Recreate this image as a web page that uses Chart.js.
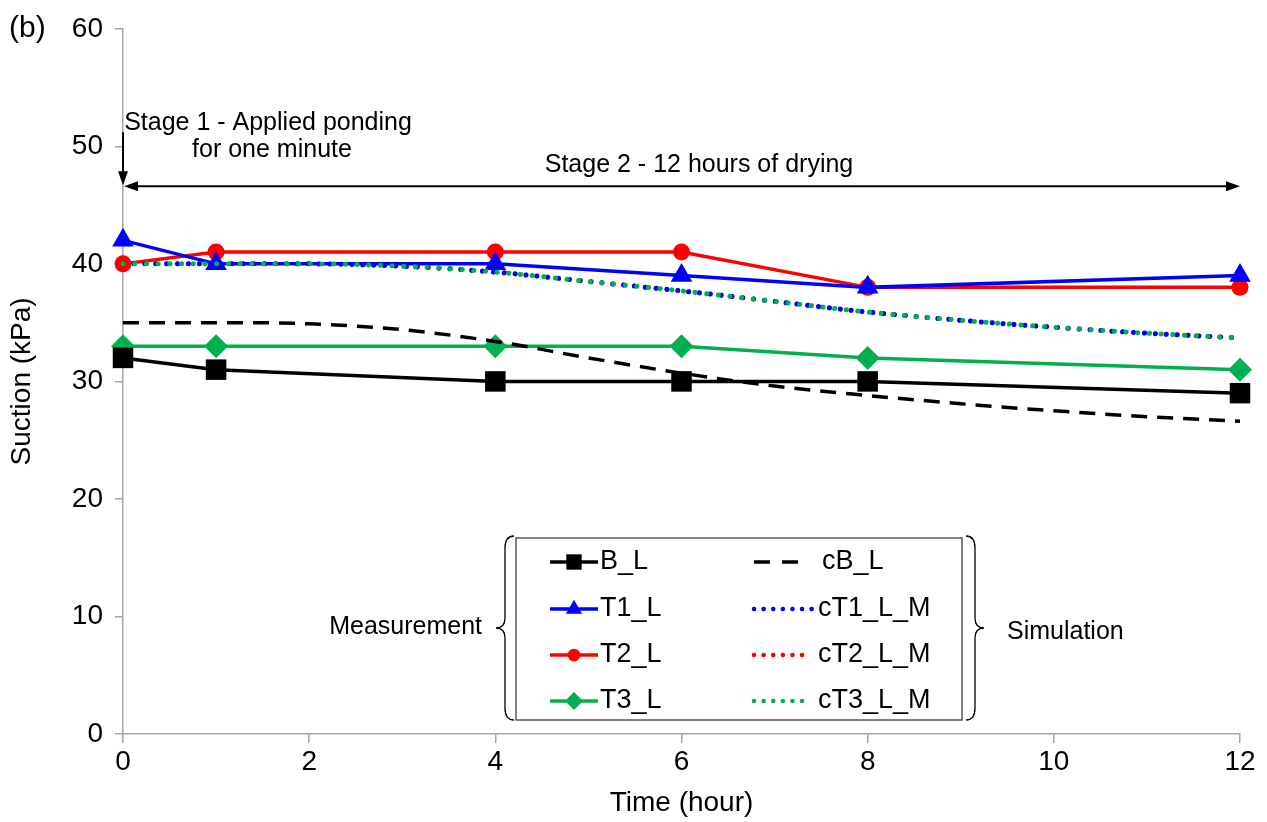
<!DOCTYPE html>
<html>
<head>
<meta charset="utf-8">
<script src="https://cdn.jsdelivr.net/npm/chart.js@4.4.0/dist/chart.umd.min.js"></script>
<style>
  html, body { margin: 0; padding: 0; background: #fff; }
  #wrap { width: 1267px; height: 822px; position: relative; }
</style>
</head>
<body>
<div id="wrap"><canvas id="chart" width="1267" height="822"></canvas></div>
<script>
// measured suction (kPa) vs time (hour)
var timeMeas = [0, 1, 4, 6, 8, 12];
var bL  = [32, 31, 30, 30, 30, 29];
var t1L = [42, 40, 40, 39, 38, 39];
var t2L = [40, 41, 41, 41, 38, 38];
var t3L = [33, 33, 33, 33, 32, 31];

// simulated curves
var timeSim = [0, 1, 2, 3, 4, 5, 6, 7, 8, 9, 10, 11, 12];
var cBL  = [35, 35, 34.9, 34.4, 33.4, 32.0, 30.7, 29.6, 28.8, 28.1, 27.5, 27.0, 26.6];
var cT1L = [40, 40, 40, 39.8, 39.3, 38.5, 37.7, 36.8, 35.9, 35.2, 34.6, 34.1, 33.7];
var cT2L = [40, 40, 40, 39.8, 39.3, 38.5, 37.7, 36.8, 35.9, 35.2, 34.6, 34.1, 33.7];
var cT3L = [40, 40, 40, 39.8, 39.3, 38.5, 37.7, 36.8, 35.9, 35.2, 34.6, 34.1, 33.7];

var FONT = '"Liberation Sans", Arial, sans-serif';
var AXIS = '#a6a6a6';

function pts(xs, ys) {
    return xs.map(function(x, i) { return { x: x, y: ys[i] }; });
}

function measSet(label, ys, color, style, r) {
    return {
        label: label, data: pts(timeMeas, ys),
        borderColor: color, backgroundColor: color, borderWidth: 3.5,
        pointStyle: style, pointRadius: r, pointHoverRadius: r,
        pointBorderWidth: 0, tension: 0, clip: false
    };
}

function simSet(label, ys, color, dash, width) {
    return {
        label: label, data: pts(timeSim, ys),
        borderColor: color, backgroundColor: color, borderWidth: width,
        borderDash: dash, borderCapStyle: dash[0] < 1 ? 'round' : 'butt',
        pointRadius: 0, cubicInterpolationMode: 'monotone', clip: false
    };
}

// first dataset is drawn on top in Chart.js
var simSets = [
    simSet('cB_L', cBL, '#000000', [16, 10], 3.5),
    simSet('cT3_L_M', cT3L, '#00b050', [0.1, 11.6], 5),
    simSet('cT1_L_M', cT1L, '#0000ff', [0.1, 10.8], 5),
    simSet('cT2_L_M', cT2L, '#ff0000', [0.1, 10.8], 4.5)
];
var measSets = [
    measSet('B_L', bL, '#000000', 'rect', 14.5),
    measSet('T1_L', t1L, '#0000ff', 'triangle', 12.5),
    measSet('T2_L', t2L, '#ff0000', 'circle', 8.5),
    measSet('T3_L', t3L, '#00b050', 'rectRot', 12)
];
var legendLeft = ['B_L', 'T1_L', 'T2_L', 'T3_L'];
var legendRight = ['cB_L', 'cT1_L_M', 'cT2_L_M', 'cT3_L_M'];

function arrowHead(ctx, x, y, dir) {
    ctx.beginPath();
    if (dir === 'down') {
        ctx.moveTo(x, y); ctx.lineTo(x - 5, y - 14); ctx.lineTo(x + 5, y - 14);
    } else if (dir === 'left') {
        ctx.moveTo(x, y); ctx.lineTo(x + 14, y - 5); ctx.lineTo(x + 14, y + 5);
    } else {
        ctx.moveTo(x, y); ctx.lineTo(x - 14, y - 5); ctx.lineTo(x - 14, y + 5);
    }
    ctx.closePath();
    ctx.fill();
}

function brace(ctx, x, top, bottom, facing) {
    // curly brace; facing 'left' means the tip points left
    var mid = (top + bottom) / 2;
    var s = facing === 'left' ? 1 : -1;
    var w = 9;
    ctx.beginPath();
    ctx.moveTo(x + s * w, top);
    ctx.quadraticCurveTo(x, top, x, top + 12);
    ctx.lineTo(x, mid - 10);
    ctx.quadraticCurveTo(x, mid, x - s * w, mid);
    ctx.quadraticCurveTo(x, mid, x, mid + 10);
    ctx.lineTo(x, bottom - 12);
    ctx.quadraticCurveTo(x, bottom, x + s * w, bottom);
    ctx.stroke();
}

function findSet(name) {
    return simSets.concat(measSets).filter(function(d) { return d.label === name; })[0];
}

var extras = {
    id: 'extras',
    afterDraw: function(chart) {
        var ctx = chart.ctx;
        var xs = chart.scales.x, ys = chart.scales.y;
        ctx.save();
        ctx.fillStyle = '#000';
        ctx.strokeStyle = '#000';
        ctx.textBaseline = 'middle';

        // (b) label
        ctx.font = '30px ' + FONT;
        ctx.textAlign = 'left';
        ctx.fillText('(b)', 9, 29);

        // stage annotations
        var x0 = xs.getPixelForValue(0), x12 = xs.getPixelForValue(12);
        var yArr = ys.getPixelForValue(46.6);
        ctx.lineWidth = 2;
        ctx.beginPath();
        ctx.moveTo(x0, ys.getPixelForValue(51.2));
        ctx.lineTo(x0, yArr - 10);
        ctx.stroke();
        arrowHead(ctx, x0, yArr - 1, 'down');
        ctx.beginPath();
        ctx.moveTo(x0 + 10, yArr);
        ctx.lineTo(x12 - 10, yArr);
        ctx.stroke();
        arrowHead(ctx, x0 + 1, yArr, 'left');
        arrowHead(ctx, x12, yArr, 'right');

        ctx.font = '25px ' + FONT;
        ctx.textAlign = 'center';
        ctx.fillText('Stage 1 - Applied ponding', 268, 123);
        ctx.fillText('for one minute', 272, 150);
        ctx.fillText('Stage 2 - 12 hours of drying', 699, 165);

        // legend box with braces
        ctx.lineWidth = 1.3;
        ctx.strokeStyle = '#404040';
        ctx.strokeRect(516, 538, 446, 182);
        ctx.strokeStyle = '#000';
        brace(ctx, 505, 536, 720, 'left');
        brace(ctx, 975, 536, 720, 'right');
        ctx.textAlign = 'right';
        ctx.fillText('Measurement', 482, 627);
        ctx.textAlign = 'left';
        ctx.fillText('Simulation', 1007, 632);

        var rows = [562, 609, 655, 701];
        ctx.font = '27px ' + FONT;
        legendLeft.forEach(function(name, i) {
            var ds = findSet(name);
            var y = rows[i];
            ctx.strokeStyle = ds.borderColor;
            ctx.fillStyle = ds.borderColor;
            ctx.lineWidth = 3.5;
            ctx.setLineDash([]);
            ctx.beginPath();
            ctx.moveTo(550, y); ctx.lineTo(598, y);
            ctx.stroke();
            Chart.helpers.drawPoint(ctx, {
                pointStyle: ds.pointStyle, radius: ds.pointRadius * 0.75,
                rotation: 0, borderWidth: 0
            }, 574, y);
            ctx.fillStyle = '#000';
            ctx.fillText(ds.label, 600, y);
        });
        legendRight.forEach(function(name, i) {
            var ds = findSet(name);
            var y = rows[i];
            var dashed = name === 'cB_L';
            ctx.strokeStyle = ds.borderColor;
            ctx.lineWidth = dashed ? 3.5 : 4.5;
            ctx.lineCap = ds.borderCapStyle;
            ctx.setLineDash(dashed ? [16, 12] : [0.1, 9.5]);
            ctx.beginPath();
            ctx.moveTo(754, y);
            ctx.lineTo(name === 'cT1_L_M' ? 815 : 806, y);
            ctx.stroke();
            ctx.setLineDash([]);
            ctx.lineCap = 'butt';
            ctx.fillStyle = '#000';
            ctx.fillText(ds.label, dashed ? 822 : 818, y);
        });
        ctx.restore();
    }
};

var ctx = document.getElementById('chart').getContext('2d');
var chart = new Chart(ctx, {
    type: 'line',
    data: { datasets: simSets.concat(measSets) },
    options: {
        responsive: false,
        animation: false,
        layout: { padding: { top: 28, right: 27, left: 0, bottom: 0 } },
        plugins: { legend: { display: false }, tooltip: { enabled: false } },
        scales: {
            x: {
                type: 'linear', min: 0, max: 12,
                border: { color: AXIS, width: 1.5 },
                grid: { drawOnChartArea: false, color: AXIS, tickLength: 9, lineWidth: 1.5 },
                ticks: { stepSize: 2, color: '#000', font: { family: FONT, size: 28 }, padding: 2 },
                title: { display: true, text: 'Time (hour)', color: '#000', font: { family: FONT, size: 28 }, padding: { top: 0, bottom: 2 } },
                afterFit: function(s) { s.height = 88; }
            },
            y: {
                min: 0, max: 60,
                border: { color: AXIS, width: 1.5 },
                grid: { drawOnChartArea: false, color: AXIS, tickLength: 8, lineWidth: 1.5 },
                ticks: { stepSize: 10, color: '#000', font: { family: FONT, size: 28 }, padding: 12 },
                title: { display: true, text: 'Suction (kPa)', color: '#000', font: { family: FONT, size: 28 }, padding: { top: 5, bottom: 0 } },
                afterFit: function(s) { s.width = 123; }
            }
        }
    },
    plugins: [extras]
});
</script>
</body>
</html>
